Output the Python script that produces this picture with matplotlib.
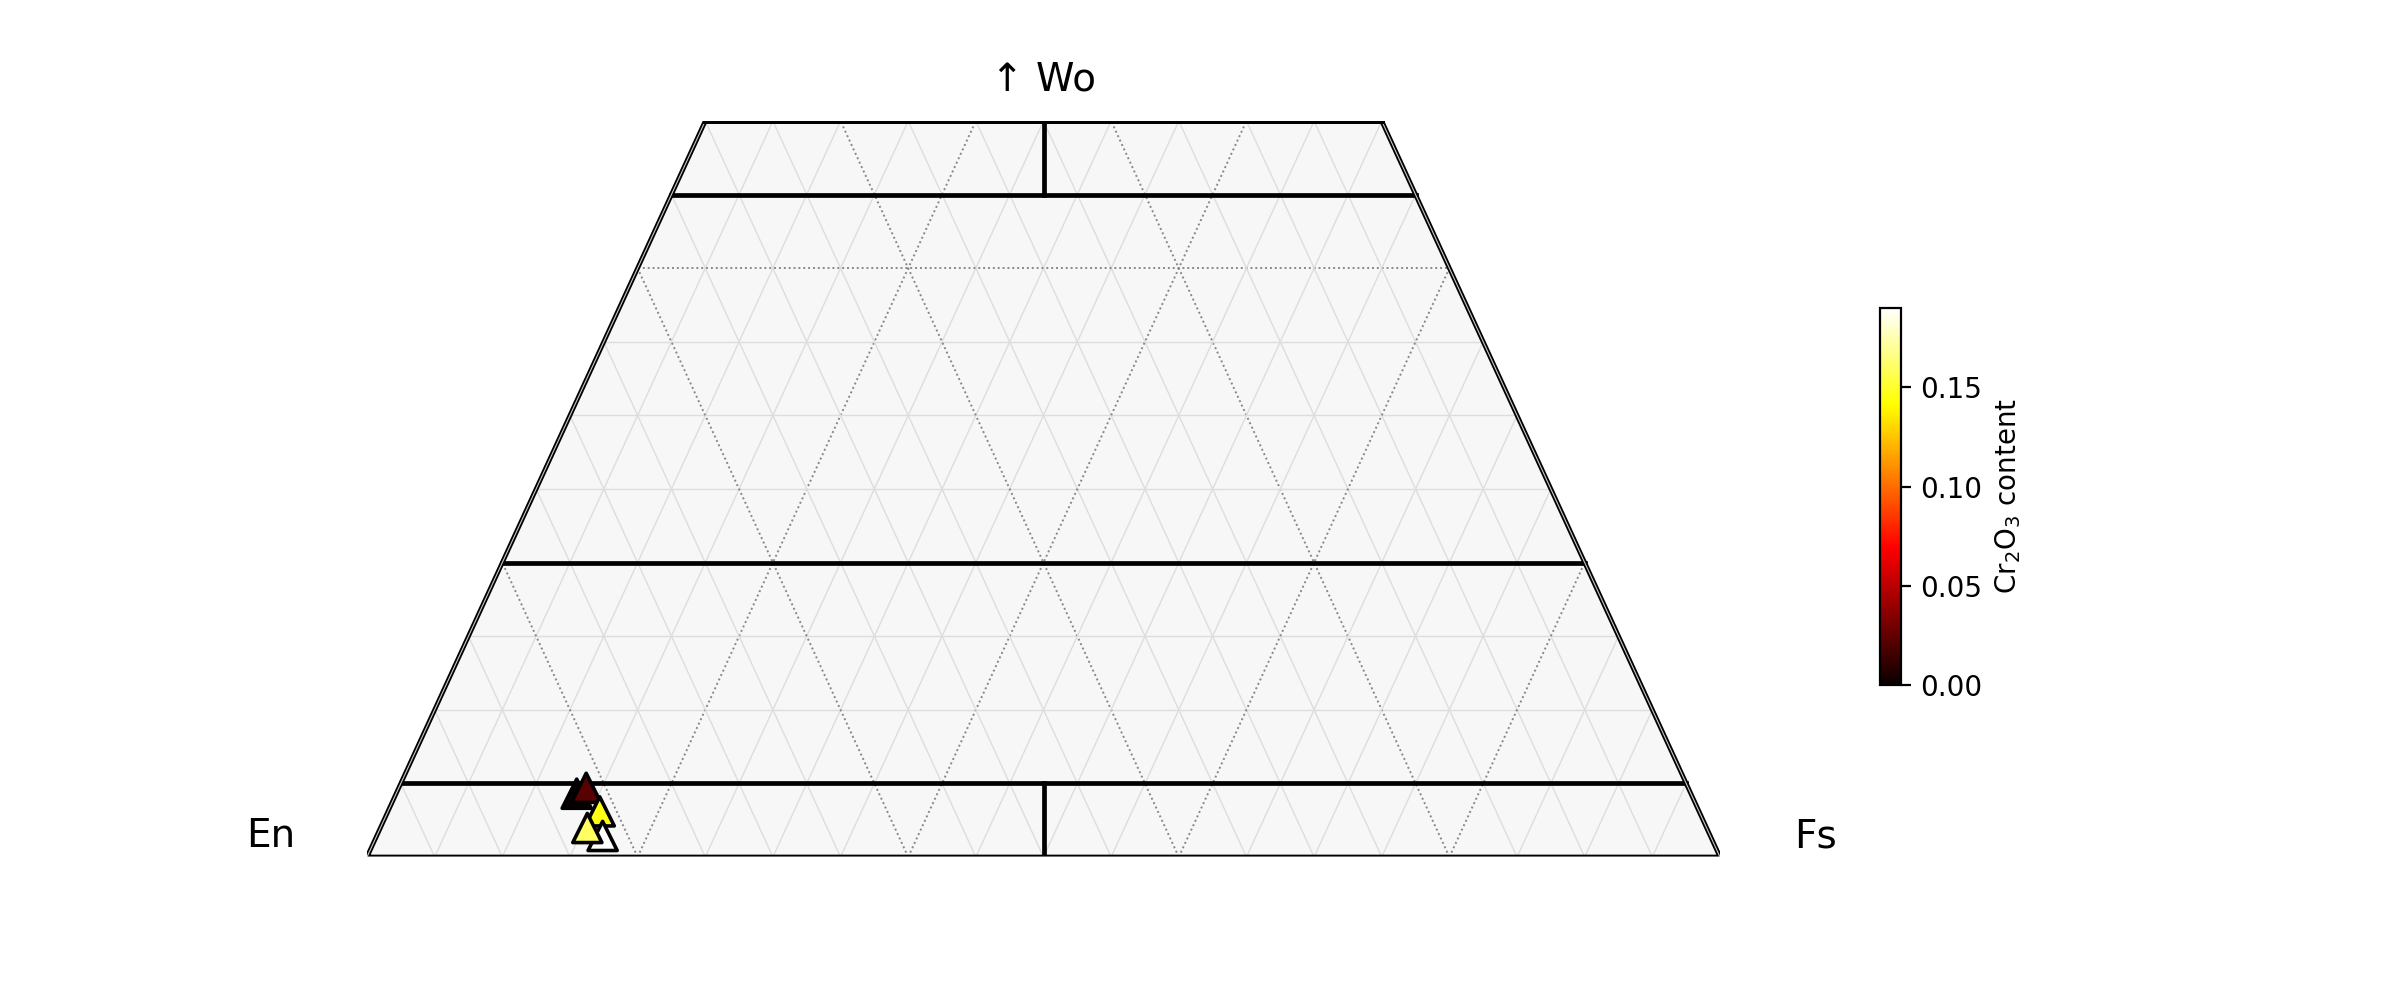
import numpy as np
import matplotlib
matplotlib.use("Agg")
import matplotlib.pyplot as plt

# pyroxene analyses (mol %), drawing order
en = [82.35, 81.45, 81.25, 81.9, 82.7]
fs = [13.35, 13.85, 15.65, 16.7, 15.3]
wo = [4.3, 4.7, 3.1, 1.43, 1.97]
cr2o3 = [0.0, 0.023, 0.145, 0.19, 0.16]

# classification boundaries (Wo %)
wo_lines = [5, 20, 45]


def to_xy(fs_, wo_):
    fs_ = np.asarray(fs_, float)
    wo_ = np.asarray(wo_, float)
    return fs_ + wo_ / 2.0, wo_


fig = plt.figure(figsize=(12, 5), dpi=200)
ax = fig.add_axes([367 / 2400, 143 / 1000, 1353 / 2400, 736 / 1000])
ax.set_xlim(0, 100)
ax.set_ylim(0, 50)
ax.axis("off")

# background of the quadrilateral
ax.fill([0, 100, 75, 25], [0, 0, 50, 50], color="#f7f7f7", zorder=0)

# grid every 5 %, dotted every 20 %
for v in range(5, 100, 5):
    dotted = v % 20 == 0
    kw = dict(color="#888888", lw=0.7, ls=(0, (1, 1.5))) if dotted else dict(color="#dddddd", lw=0.5)
    w1 = min(50, 100 - v)
    # constant Fs
    x, y = to_xy([v, v], [0, w1])
    ax.plot(x, y, zorder=1, **kw)
    # constant En
    x, y = to_xy([100 - v, 100 - v - w1], [0, w1])
    ax.plot(x, y, zorder=1, **kw)
    # constant Wo
    if v < 50:
        x, y = to_xy([0, 100 - v], [v, v])
        ax.plot(x, y, zorder=1, **kw)

# boundaries
for w in wo_lines:
    x, y = to_xy([0, 100 - w], [w, w])
    ax.plot(x, y, color="black", lw=1.7, zorder=2)
x, y = to_xy([47.5, 50], [5, 0])
ax.plot(x, y, color="black", lw=1.7, zorder=2)
x, y = to_xy([25, 27.5], [50, 45])
ax.plot(x, y, color="black", lw=1.7, zorder=2)

# outline
ox, oy = to_xy([0, 100, 50, 0, 0], [0, 0, 50, 50, 0])
ax.plot(ox, oy, color="black", lw=1.7, zorder=3, solid_joinstyle="miter")
ax.plot(ox, oy, color="#c8c8c8", lw=0.4, zorder=3)
x, y = to_xy([0, 50], [50, 50])
ax.plot(x, y, color="black", lw=1.8, zorder=3)

px, py = to_xy(fs, wo)
sc = ax.scatter(px, py, c=cr2o3, cmap="hot", vmin=0, vmax=max(cr2o3), marker="^",
                s=110, edgecolors="black", linewidths=1.3, zorder=5, clip_on=False)

ax.text(-5.3, 1.4, "En", fontsize=14, ha="right", va="center")
ax.text(105.5, 1.4, "Fs", fontsize=14, ha="left", va="center")
ax.text(50, 52.8, "\u2191 Wo", fontsize=14, ha="center", va="center")

cax = fig.add_axes([1880 / 2400, 315 / 1000, 21 / 2400, 377 / 1000])
cb = fig.colorbar(sc, cax=cax)
cb.set_ticks([0, 0.05, 0.10, 0.15])
cb.set_label("Cr$_2$O$_3$ content", fontsize=10)
cb.ax.tick_params(labelsize=10)

fig.savefig("out.png", dpi=200)
